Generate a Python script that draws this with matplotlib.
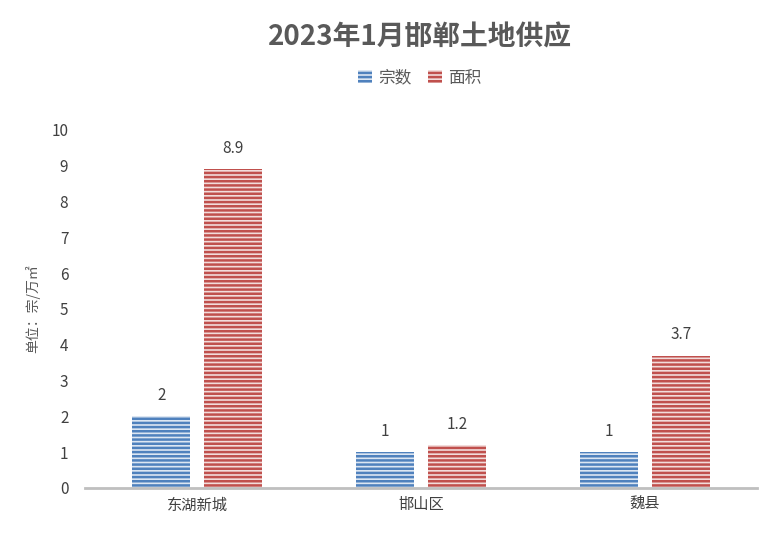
import matplotlib
matplotlib.use("Agg")
import matplotlib.pyplot as plt
import numpy as np

plt.rcParams['font.family'] = ['Noto Sans CJK SC', 'DejaVu Sans']
plt.rcParams['hatch.linewidth'] = 1.8

categories = ["东湖新城", "邯山区", "魏县"]
counts = [2, 1, 1]
areas = [8.9, 1.2, 3.7]
yticks = list(range(0, 11))

fig = plt.figure(figsize=(7.83, 5.36), dpi=100)
ax = fig.add_axes([85/783, 1-488/536, 672/783, 358/536])
x = np.arange(len(categories))
w = 0.26
blue = '#4f81bd'; red = '#c0504d'
b1 = ax.bar(x - 0.16, counts, w, facecolor='#dce6f2', edgecolor=blue, hatch='----', linewidth=0, label='宗数')
b2 = ax.bar(x + 0.16, areas, w, facecolor='#f2dcdb', edgecolor=red, hatch='----', linewidth=0, label='面积')
for bars, vals in ((b1, counts), (b2, areas)):
    for r, v in zip(bars, vals):
        ax.text(r.get_x() + r.get_width()/2, v + 0.35, f"{v:g}", ha='center', va='bottom', fontsize=11, color='#404040')
ax.set_xlim(-0.5, 2.5)
ax.set_ylim(0, 10)
ax.set_yticks(yticks)
ax.set_xticks(x)
ax.set_xticklabels(categories, fontsize=11, color='#404040')
ax.tick_params(axis='y', labelsize=11, colors='#404040', length=0, pad=12)
ax.tick_params(axis='x', length=0, pad=6)
for s in ['top', 'right', 'left']:
    ax.spines[s].set_visible(False)
ax.spines['bottom'].set_color('#bfbfbf')
ax.spines['bottom'].set_linewidth(2)
ax.set_ylabel('单位：宗/万㎡', fontsize=10, color='#595959', labelpad=8)
fig.text(420/783, 1-38/536, '2023年1月邯郸土地供应', ha='center', va='center', fontsize=20, fontweight='bold', color='#595959')
fig.legend(handles=[b1, b2], loc='center', bbox_to_anchor=(420/783, 1-78/536), ncol=2, frameon=False, fontsize=12, handlelength=0.8, handleheight=0.8, columnspacing=1.0, handletextpad=0.4, labelcolor='#595959')
fig.savefig('out.png', dpi=100)
